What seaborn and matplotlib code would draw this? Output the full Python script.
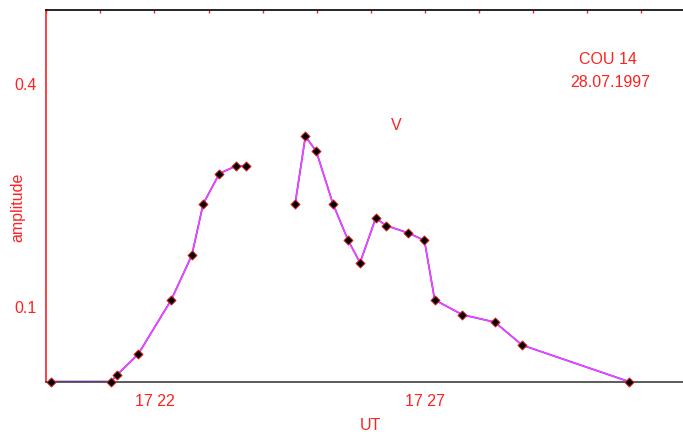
import pandas as pd
import matplotlib.pyplot as plt
import seaborn as sns
from matplotlib.ticker import MultipleLocator, FixedLocator, FixedFormatter

# readings, UT in minutes after 17:00
ut_min = [20.09, 21.20, 21.30, 21.70, 22.31, 22.69, 22.90, 23.20, 23.50, 23.70,
          24.60, 24.79, 24.99, 25.30, 25.58, 25.80, 26.09, 26.28, 26.69, 26.99,
          27.18, 27.69, 28.29, 28.80, 30.77]
amplitude = [0.0, 0.0, 0.0085, 0.037, 0.110, 0.170, 0.239, 0.280, 0.290, 0.290,
             0.239, 0.330, 0.310, 0.239, 0.190, 0.160, 0.220, 0.210, 0.200, 0.190,
             0.110, 0.090, 0.080, 0.049, 0.0]
segment = [1] * 10 + [2] * 15

x_ticks = [22, 27]
x_tick_labels = ["17 22", "17 27"]
y_ticks = [0.1, 0.4]
y_tick_labels = ["0.1", "0.4"]

df = pd.DataFrame({"ut": ut_min, "amp": amplitude, "seg": segment})

sns.set_style("white")
plt.rcParams['font.family'] = ['Liberation Sans', 'DejaVu Sans']
red = "#ff2020"

fig, ax = plt.subplots(figsize=(6.83, 4.32), dpi=100)
fig.subplots_adjust(left=46.3 / 683, right=1.0, bottom=(432 - 381.6) / 432, top=(432 - 10) / 432)

# blue under magenta gives the mixed look of the original trace
sns.lineplot(data=df, x="ut", y="amp", units="seg", estimator=None, sort=False,
             color="#3030ff", linewidth=1.2, ax=ax)
sns.lineplot(data=df, x="ut", y="amp", units="seg", estimator=None, sort=False,
             color="#ff40ff", linewidth=1.1, ax=ax)
sns.scatterplot(data=df, x="ut", y="amp", marker="D", s=22, color="black",
                edgecolor=red, linewidth=0.6, zorder=5, ax=ax, clip_on=False)

ax.set_xlim(20.0, 31.77)
ax.set_ylim(0, 0.5)

ax.xaxis.set_major_locator(FixedLocator(x_ticks))
ax.xaxis.set_major_formatter(FixedFormatter(x_tick_labels))
ax.xaxis.set_minor_locator(MultipleLocator(1))
ax.yaxis.set_major_locator(FixedLocator(y_ticks))
ax.yaxis.set_major_formatter(FixedFormatter(y_tick_labels))
ax.yaxis.set_minor_locator(MultipleLocator(0.02))

ax.tick_params(axis="x", which="both", direction="in", length=2.5, width=1, color=red,
               top=True, labelsize=11.5, labelcolor=red, pad=9)
ax.tick_params(axis="y", which="both", direction="in", length=2.5, width=1, color="#202020",
               labelsize=11.5, labelcolor=red, pad=7)

ax.spines["left"].set_color(red)
ax.spines["bottom"].set_color("#404040")
ax.spines["top"].set_color("black")
ax.spines["right"].set_visible(False)
for s in ["left", "bottom", "top"]:
    ax.spines[s].set_linewidth(1.2)

ax.set_xlabel("")
ax.set_ylabel("")
fig.text(370 / 683, 1 - 425 / 432, "UT", fontsize=11.5, color=red, ha="center", va="center")
fig.text(18 / 683, 1 - 207 / 432, "amplitude", fontsize=11.5, color=red,
         rotation=90, ha="center", va="center")

ax.text(26.46, 0.345, "V", fontsize=11.5, color=red, ha="center", va="center")
ax.text(30.38, 0.433, "COU 14", fontsize=11.5, color=red, ha="center", va="center")
ax.text(30.42, 0.402, "28.07.1997", fontsize=11.5, color=red, ha="center", va="center")

plt.savefig("out.png", dpi=100)
